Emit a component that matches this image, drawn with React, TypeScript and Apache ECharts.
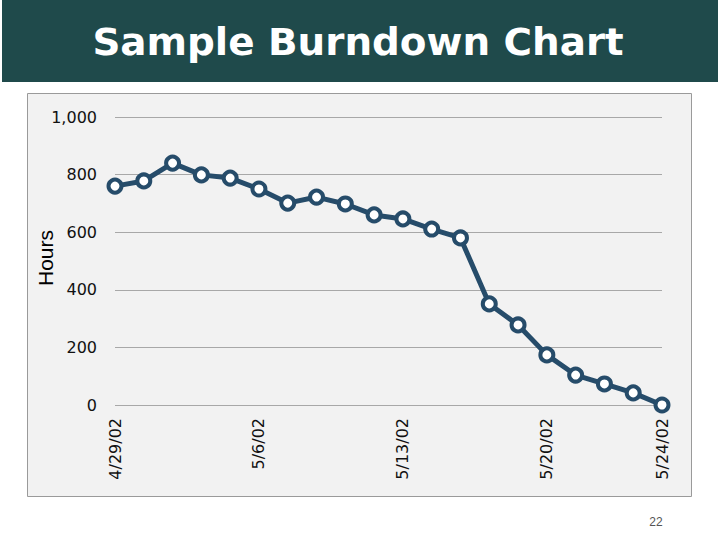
import React, { useEffect, useRef } from "react";
import * as echarts from "echarts";

const dates = [
  "4/29/02", "4/30/02", "5/1/02", "5/2/02", "5/3/02",
  "5/6/02", "5/7/02", "5/8/02", "5/9/02", "5/10/02",
  "5/13/02", "5/14/02", "5/15/02", "5/16/02", "5/17/02",
  "5/20/02", "5/21/02", "5/22/02", "5/23/02", "5/24/02",
];
const hours = [760, 778, 840, 799, 788, 750, 701, 722, 698, 660, 646, 611, 580, 351, 278, 174, 104, 73, 42, 0];
const shownLabels = [0, 5, 10, 15, 19];
const title = "Sample Burndown Chart";
const yName = "Hours";
const pageNo = "22";

export default function App() {
  const ref = useRef<HTMLDivElement>(null);
  useEffect(() => {
    if (!ref.current) return;
    const chart = echarts.init(ref.current, undefined, { renderer: "svg" });
    chart.setOption({
      animation: false,
      backgroundColor: "#ffffff",
      graphic: [
        { type: "rect", z: -10, shape: { x: 2, y: 0, width: 716, height: 82 }, style: { fill: "#1f4a4b" } },
        {
          type: "text", z: 10, x: 358, y: 42, scaleX: 1.05,
          style: { text: title, fill: "#ffffff", font: "bold 37px 'DejaVu Sans', sans-serif", textAlign: "center", textVerticalAlign: "middle" },
        },
        { type: "rect", z: -10, shape: { x: 27.5, y: 93.5, width: 664, height: 403 }, style: { fill: "#f2f2f2", stroke: "#9a9a9a", lineWidth: 1 } },
        {
          type: "text", z: 10, x: 45, y: 258, rotation: Math.PI / 2,
          style: { text: yName, fill: "#000000", font: "21px 'Liberation Sans', Arial, sans-serif", textAlign: "center", textVerticalAlign: "middle" },
        },
        {
          type: "text", z: 10, x: 656, y: 522,
          style: { text: pageNo, fill: "#555555", font: "12px 'Liberation Sans', Arial, sans-serif", textAlign: "center", textVerticalAlign: "middle" },
        },
      ],
      grid: { left: 115, right: 58, top: 117, bottom: 135, containLabel: false },
      xAxis: {
        type: "category",
        data: dates,
        boundaryGap: false,
        axisLine: { show: false },
        axisTick: { show: false },
        splitLine: { show: false },
        axisLabel: {
          rotate: 90,
          margin: 13,
          interval: (i: number) => shownLabels.includes(i),
          color: "#111111",
          fontSize: 16,
          fontFamily: "'DejaVu Sans', sans-serif",
        },
      },
      yAxis: {
        type: "value",
        min: 0,
        max: 1000,
        interval: 200,
        axisLine: { show: false },
        axisTick: { show: false },
        splitLine: { lineStyle: { color: "#a8a8a8", width: 1 } },
        axisLabel: {
          margin: 18,
          color: "#111111",
          fontSize: 16,
          fontFamily: "'DejaVu Sans', sans-serif",
          formatter: (v: number) => v.toLocaleString("en-US"),
        },
      },
      series: [
        {
          type: "line",
          data: hours,
          symbol: "circle",
          symbolSize: 13,
          lineStyle: { color: "#264c6a", width: 5 },
          itemStyle: { color: "#ffffff", borderColor: "#264c6a", borderWidth: 4 },
        },
      ],
    });
    return () => chart.dispose();
  }, []);
  return <div ref={ref} style={{ position: "fixed", left: 0, top: 0, width: 720, height: 540 }} />;
}
